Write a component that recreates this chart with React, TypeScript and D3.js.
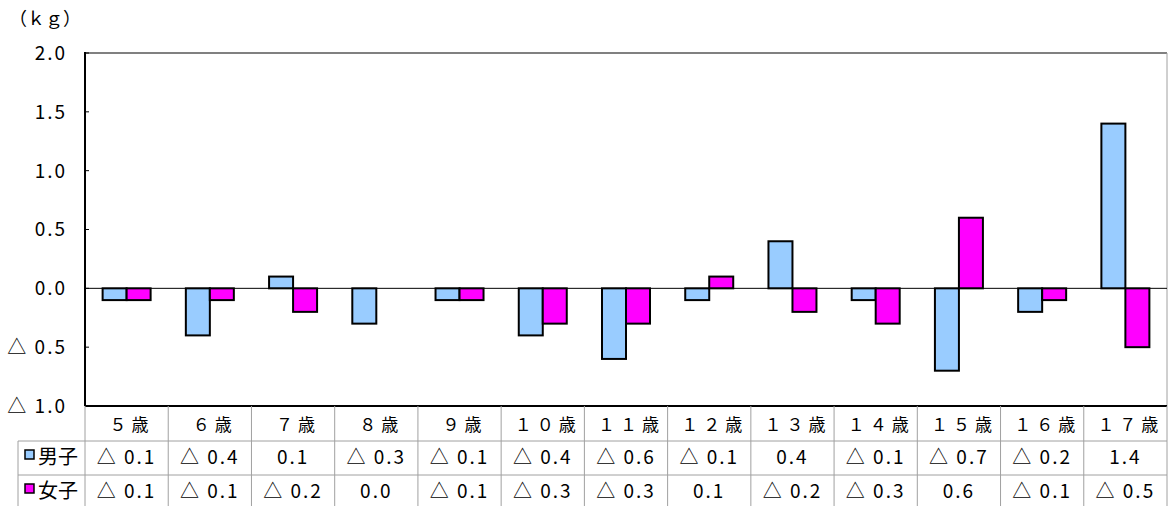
import { useEffect, useRef } from 'react';
import * as d3 from 'd3';

const categories = ['５歳', '６歳', '７歳', '８歳', '９歳', '１０歳', '１１歳', '１２歳', '１３歳', '１４歳', '１５歳', '１６歳', '１７歳'];
const boys = [-0.1, -0.4, 0.1, -0.3, -0.1, -0.4, -0.6, -0.1, 0.4, -0.1, -0.7, -0.2, 1.4];
const girls = [-0.1, -0.1, -0.2, 0.0, -0.1, -0.3, -0.3, 0.1, -0.2, -0.3, 0.6, -0.1, -0.5];
const seriesNames = ['男子', '女子'];
const seriesColors = ['#99CCFF', '#FF00FF'];
const yTicks = [2.0, 1.5, 1.0, 0.5, 0.0, -0.5, -1.0];

const fmt = (v: number) => (v < 0 ? '△  ' : '') + Math.abs(v).toFixed(1);

export default function App() {
  const ref = useRef<SVGSVGElement | null>(null);

  useEffect(() => {
    const svg = d3.select(ref.current);
    svg.selectAll('*').remove();
    const font = '"Noto Sans CJK JP", sans-serif';

    const left = 85;
    const right = 1167;
    const top = 53;
    const bottom = 406;
    // table row boundaries: header, 男子, 女子
    const rowLines = [bottom, 441, 475, 508];

    const x = d3.scaleBand().domain(categories).range([left, right]);
    const y = d3.scaleLinear().domain([-1, 2]).range([bottom, top]);
    const barW = 24;

    // plot frame
    svg.append('line').attr('x1', left).attr('x2', right).attr('y1', top).attr('y2', top)
      .attr('stroke', '#808080').attr('stroke-width', 2);
    svg.append('line').attr('x1', right).attr('x2', right).attr('y1', top).attr('y2', bottom)
      .attr('stroke', '#a0a0a0').attr('stroke-width', 1);

    // y tick labels
    svg.append('g').selectAll('text').data(yTicks).enter().append('text')
      .attr('x', 67).attr('y', (d) => y(d)).attr('dy', '0.36em')
      .attr('text-anchor', 'end').attr('font-family', font).attr('font-size', 19)
      .attr('letter-spacing', 2).attr('fill', '#000')
      .text((d) => (d < 0 ? '△  ' : '') + Math.abs(d).toFixed(1));

    svg.append('g').selectAll('line').data(yTicks).enter().append('line')
      .attr('x1', left).attr('x2', left + 4).attr('y1', (d) => y(d)).attr('y2', (d) => y(d))
      .attr('stroke', '#000').attr('stroke-width', 1);

    svg.append('text').attr('x', 9).attr('y', 25).attr('font-family', font).attr('font-size', 18)
      .attr('fill', '#000').text('（ｋｇ）');

    // bars
    const series = [boys, girls];
    series.forEach((vals, si) => {
      svg.append('g').selectAll('rect').data(vals).enter().append('rect')
        .attr('x', (d, i) => x(categories[i])! + x.bandwidth() / 2 - barW + si * barW)
        .attr('y', (d) => y(Math.max(0, d)))
        .attr('width', barW)
        .attr('height', (d) => Math.abs(y(d) - y(0)))
        .attr('fill', seriesColors[si])
        .attr('stroke', '#000')
        .attr('stroke-width', (d) => (d === 0 ? 0 : 2));
    });

    // zero line
    svg.append('line').attr('x1', left).attr('x2', right).attr('y1', y(0)).attr('y2', y(0))
      .attr('stroke', '#000').attr('stroke-width', 1);

    // left axis and bottom
    svg.append('line').attr('x1', left).attr('x2', left).attr('y1', top - 1).attr('y2', bottom)
      .attr('stroke', '#000').attr('stroke-width', 2);
    svg.append('line').attr('x1', left).attr('x2', right).attr('y1', bottom).attr('y2', bottom)
      .attr('stroke', '#000').attr('stroke-width', 2);

    // data table
    const tbl = svg.append('g');
    const tableLeft = 18;
    const tableBottom = rowLines[3];
    categories.forEach((c) => {
      const cx = x(c)!;
      tbl.append('line').attr('x1', cx + x.bandwidth()).attr('x2', cx + x.bandwidth())
        .attr('y1', bottom).attr('y2', tableBottom).attr('stroke', '#a0a0a0');
    });
    tbl.append('line').attr('x1', left).attr('x2', left).attr('y1', bottom).attr('y2', tableBottom)
      .attr('stroke', '#a0a0a0');
    tbl.append('line').attr('x1', tableLeft).attr('x2', tableLeft).attr('y1', rowLines[1]).attr('y2', tableBottom)
      .attr('stroke', '#a0a0a0');
    [rowLines[1], rowLines[2]].forEach((ly) => {
      tbl.append('line').attr('x1', tableLeft).attr('x2', right)
        .attr('y1', ly).attr('y2', ly).attr('stroke', '#a0a0a0');
    });

    tbl.append('g').selectAll('text').data(categories).enter().append('text')
      .attr('x', (d) => x(d)! + x.bandwidth() / 2 + 5)
      .attr('y', (rowLines[0] + rowLines[1]) / 2 + 1).attr('dy', '0.36em')
      .attr('text-anchor', 'middle').attr('font-family', font).attr('font-size', 17)
      .attr('letter-spacing', 5).attr('fill', '#000')
      .text((d) => d);

    const rowCenters = [457, 491];
    series.forEach((vals, si) => {
      const ry = rowCenters[si];
      tbl.append('g').selectAll('text').data(vals).enter().append('text')
        .attr('x', (d, i) => x(categories[i])! + x.bandwidth() / 2)
        .attr('y', ry).attr('dy', '0.36em')
        .attr('text-anchor', 'middle').attr('font-family', font).attr('font-size', 19)
        .attr('letter-spacing', 2).attr('fill', '#000')
        .text((d) => fmt(d));
      tbl.append('rect').attr('x', 25).attr('y', ry - 7).attr('width', 9).attr('height', 9)
        .attr('fill', seriesColors[si]).attr('stroke', '#000').attr('stroke-width', 1.5);
      tbl.append('text').attr('x', 38).attr('y', ry).attr('dy', '0.36em')
        .attr('font-family', font).attr('font-size', 20).attr('fill', '#000')
        .text(seriesNames[si]);
    });
  }, []);

  return (
    <svg ref={ref} width={1168} height={506}
      style={{ position: 'absolute', left: 0, top: 0, background: '#fff' }} />
  );
}
